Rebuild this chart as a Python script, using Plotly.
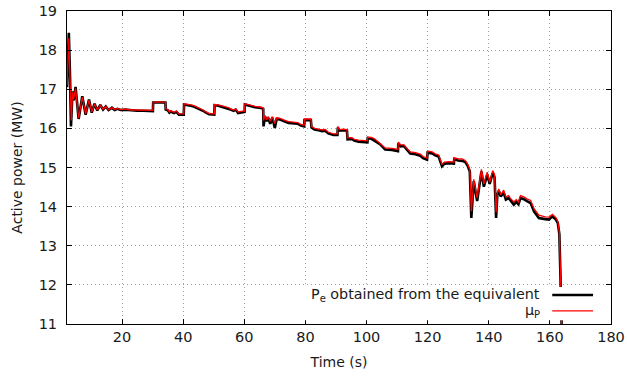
import plotly.graph_objects as go

# mu_P (red)
t_mu = [2.0, 2.3, 2.6, 3.0, 3.4, 3.8, 4.2, 4.8, 5.8, 7.0, 8.1, 9.2, 10.1, 11.0, 11.9, 12.9, 13.8,
        14.7, 15.6, 16.7, 17.6, 18.5, 19.5, 21, 23, 25, 27, 29, 30.1, 30.2, 34.2, 34.3, 35, 35.5,
        36, 37, 37.8, 38.6, 40.2, 40.3, 41.5, 42.5, 43.5, 44.5, 45.5, 46.5, 47.5, 48.5, 50.2,
        50.3, 51.5, 52.5, 53.5, 54.8, 55.5, 56.5, 57.2, 58.0, 59.5, 60.1, 60.2, 61.5, 62.5,
        63.5, 65.5, 66.2, 66.3, 66.8, 67.3, 67.8, 68.5, 69.2, 70.0, 70.6, 71.5, 72.5, 73.5,
        74.5, 76, 77.5, 78.5, 79.6, 79.7, 81.8, 82.0, 83, 84.3, 85.5, 86.5, 87.5, 89.2, 90.5,
        90.6, 91.2, 92.5, 93.6, 93.8, 95.2, 96, 97.4, 100.3, 100.4, 101.5, 102.5, 103.5, 104.5,
        105.5, 106.1, 108.3, 110.3, 110.4, 111.2, 112.2, 113.5, 114.3, 116, 117.6, 118.5,
        119.8, 120.0, 121.5, 122.5, 123.6, 124.7, 125.5, 127, 128.6, 128.7, 130, 131.3,
        132.3, 133, 133.8, 134.3, 134.7, 135.1, 136.2, 137.6, 138.4, 139.5, 140.3, 141.3,
        141.9, 142.4, 142.8, 143.3, 143.9, 144.9, 145.6, 146.5, 147.2, 148.2, 149.0, 149.7,
        150.4, 151.5, 152.5, 153.7, 154.8, 155.8, 156.4, 158.5, 159.7, 160.8, 162.0, 162.6,
        163.1, 163.4, 163.7, 164.0]
v_mu = [17.10, 17.6, 18.30, 17.2, 16.20, 16.92, 16.75, 17.02, 16.26, 16.80, 16.37, 16.72, 16.42,
        16.62, 16.47, 16.59, 16.49, 16.56, 16.48, 16.53, 16.48, 16.51, 16.48, 16.49, 16.47,
        16.47, 16.46, 16.46, 16.46, 16.67, 16.67, 16.50, 16.48, 16.42, 16.45, 16.41, 16.44,
        16.37, 16.37, 16.63, 16.62, 16.60, 16.58, 16.55, 16.52, 16.47, 16.42, 16.38, 16.37,
        16.61, 16.60, 16.58, 16.55, 16.53, 16.50, 16.47, 16.50, 16.42, 16.44, 16.44, 16.63,
        16.60, 16.58, 16.56, 16.54, 16.52, 16.20, 16.33, 16.22, 16.30, 16.18, 16.30, 16.12,
        16.27, 16.26, 16.22, 16.20, 16.17, 16.16, 16.15, 16.10, 16.08, 16.24, 16.24, 16.05,
        16.00, 15.98, 15.96, 15.97, 15.90, 15.86, 15.86, 16.05, 15.97, 15.98, 15.97, 15.76,
        15.76, 15.72, 15.70, 15.68, 15.78, 15.77, 15.74, 15.68, 15.62, 15.55, 15.50, 15.49,
        15.46, 15.65, 15.58, 15.58, 15.48, 15.40, 15.38, 15.34, 15.28, 15.24, 15.42, 15.40,
        15.35, 15.32, 15.08, 15.14, 15.15, 15.14, 15.25, 15.22, 15.22, 15.18, 15.10, 14.95,
        13.88, 14.30, 14.70, 14.22, 14.95, 14.58, 14.88, 14.62, 14.92, 14.82, 13.85, 14.35,
        14.45, 14.30, 14.42, 14.25, 14.28, 14.20, 14.12, 14.18, 14.12, 14.28, 14.25, 14.20,
        14.16, 13.95, 13.85, 13.78, 13.74, 13.73, 13.80, 13.72, 13.62, 13.35, 12.5, 11.3, 10.5]

# P_e obtained from the equivalent (black)
t_pe = [2.0, 2.3, 2.6, 3.0, 3.3, 3.8, 4.2, 4.8, 5.8, 7.0, 8.1, 9.2, 10.1, 11.0, 11.9, 12.9, 13.8,
        14.7, 15.6, 16.7, 17.6, 18.5, 19.5, 21, 23, 25, 27, 29, 30.1, 30.2, 34.2, 34.3, 35, 35.5,
        36, 37, 37.8, 38.6, 40.2, 40.3, 41.5, 42.5, 43.5, 44.5, 45.5, 46.5, 47.5, 48.5, 50.2,
        50.3, 51.5, 52.5, 53.5, 54.8, 55.5, 56.5, 57.2, 58.0, 59.5, 60.1, 60.2, 61.5, 62.5,
        63.5, 65.5, 66.2, 66.3, 66.8, 67.3, 67.8, 68.5, 69.2, 70.0, 70.6, 71.5, 72.5, 73.5,
        74.5, 76, 77.5, 78.5, 79.6, 79.7, 81.8, 82.0, 83, 84.3, 85.5, 86.5, 87.5, 89.2, 90.5,
        90.6, 91.2, 92.5, 93.6, 93.8, 95.2, 96, 97.4, 100.3, 100.4, 101.5, 102.5, 103.5, 104.5,
        105.5, 106.1, 108.3, 110.3, 110.4, 111.2, 112.2, 113.5, 114.3, 116, 117.6, 118.5,
        119.8, 120.0, 121.5, 122.5, 123.6, 124.7, 125.5, 127, 128.6, 128.7, 130, 131.3,
        132.3, 133, 133.8, 134.3, 134.7, 135.1, 136.2, 137.6, 138.4, 139.5, 140.3, 141.3,
        141.9, 142.4, 142.8, 143.3, 143.9, 144.9, 145.6, 146.5, 147.2, 148.2, 149.0, 149.7,
        150.4, 151.5, 152.5, 153.7, 154.8, 155.8, 156.4, 158.5, 159.7, 160.8, 162.0, 162.6,
        163.1, 163.4, 163.7, 164.0]
v_pe = [17.05, 17.9, 18.44, 17.3, 16.05, 16.95, 16.72, 17.06, 16.24, 16.82, 16.35, 16.74, 16.40,
        16.63, 16.46, 16.60, 16.48, 16.56, 16.47, 16.53, 16.47, 16.50, 16.47, 16.48, 16.46,
        16.45, 16.45, 16.44, 16.44, 16.66, 16.66, 16.48, 16.46, 16.40, 16.43, 16.39, 16.42,
        16.35, 16.35, 16.61, 16.60, 16.58, 16.56, 16.53, 16.50, 16.45, 16.40, 16.36, 16.35,
        16.59, 16.58, 16.56, 16.53, 16.51, 16.48, 16.45, 16.48, 16.39, 16.42, 16.42, 16.61,
        16.58, 16.56, 16.54, 16.52, 16.50, 16.05, 16.30, 16.18, 16.27, 16.12, 16.27, 16.01,
        16.24, 16.23, 16.19, 16.17, 16.14, 16.13, 16.12, 16.07, 16.05, 16.21, 16.21, 16.02,
        15.97, 15.95, 15.93, 15.94, 15.87, 15.83, 15.83, 16.02, 15.94, 15.95, 15.94, 15.72,
        15.73, 15.69, 15.66, 15.64, 15.75, 15.74, 15.70, 15.64, 15.59, 15.51, 15.46, 15.45,
        15.42, 15.62, 15.54, 15.55, 15.44, 15.36, 15.34, 15.30, 15.24, 15.20, 15.38, 15.36,
        15.31, 15.28, 15.03, 15.10, 15.11, 15.10, 15.21, 15.18, 15.17, 15.14, 15.06, 14.90,
        13.71, 14.25, 14.65, 14.14, 14.90, 14.51, 14.82, 14.58, 14.86, 14.75, 13.71, 14.30,
        14.40, 14.26, 14.35, 14.18, 14.22, 14.15, 14.05, 14.12, 14.06, 14.22, 14.19, 14.14,
        14.09, 13.88, 13.78, 13.71, 13.68, 13.67, 13.75, 13.67, 13.58, 13.30, 12.4, 11.2, 10.5]

x_ticks = [20, 40, 60, 80, 100, 120, 140, 160, 180]
y_ticks = [11, 12, 13, 14, 15, 16, 17, 18, 19]
label_pe = "P<sub>e</sub> obtained from the equivalent"
label_mu = "μ<sub>P</sub>"

FONT = "DejaVu Sans"
TXT = "#1a1a1a"
fig = go.Figure()
fig.add_trace(go.Scatter(x=t_pe, y=v_pe, mode="lines", name=label_pe,
                         line=dict(color="black", width=2.6), showlegend=False))
fig.add_trace(go.Scatter(x=t_mu, y=v_mu, mode="lines", name=label_mu,
                         line=dict(color="#ff0000", width=1.3), showlegend=False))

axis_common = dict(showline=True, linecolor="black", linewidth=1, mirror="allticks",
                   ticks="inside", ticklen=5, tickcolor="black", tickwidth=1,
                   showgrid=True, gridcolor="#a0a0a0", griddash="1px,3px", gridwidth=1,
                   zeroline=False, automargin=False,
                   tickfont=dict(family=FONT, size=14.5, color=TXT))
fig.update_xaxes(range=[2, 180], tickvals=x_ticks, **axis_common,
                 title=dict(text="Time (s)", font=dict(family=FONT, size=14, color=TXT), standoff=12))
fig.update_yaxes(range=[11, 19], tickvals=y_ticks, **axis_common, ticklabelstandoff=6,
                 title=dict(text="Active power (MW)", font=dict(family=FONT, size=14, color=TXT), standoff=12))

# gnuplot-style key (text right, sample on the right)
fig.add_shape(type="rect", xref="paper", yref="paper", x0=0.43, x1=0.985, y0=0.012, y1=0.118,
              fillcolor="white", line=dict(width=0), layer="above")
fig.add_shape(type="line", xref="paper", yref="paper", x0=0.892, x1=0.967, y0=0.093, y1=0.093,
              line=dict(color="black", width=2.5), layer="above")
fig.add_shape(type="line", xref="paper", yref="paper", x0=0.892, x1=0.967, y0=0.042, y1=0.042,
              line=dict(color="#ff0000", width=1.3), layer="above")
fig.add_annotation(text=label_pe, xref="paper", yref="paper", x=0.874, y=0.093, xanchor="right",
                   yanchor="middle", showarrow=False, font=dict(family=FONT, size=14.3, color=TXT))
fig.add_annotation(text=label_mu, xref="paper", yref="paper", x=0.874, y=0.042, xanchor="right",
                   yanchor="middle", showarrow=False, font=dict(family=FONT, size=14.3, color=TXT))

fig.update_layout(width=627, height=376, margin=dict(l=67, r=16, t=11, b=52),
                  plot_bgcolor="white", paper_bgcolor="white", font=dict(family=FONT))
fig.write_html("out.html")
